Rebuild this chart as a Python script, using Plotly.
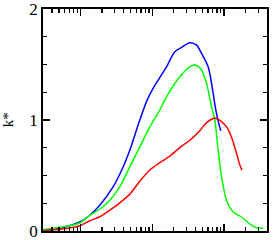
import plotly.graph_objects as go

# data (x on log axis, k* on linear axis)
blue_x = [0.301, 0.514, 0.978, 1.348, 1.858, 2.849, 3.928, 4.870, 6.716, 8.490, 10.29, 15.83, 20.66, 25.63, 33.45, 41.49, 48.71, 60.22, 67.17, 77.09, 85.72, 90.54]
blue_k = [0.002, 0.024, 0.081, 0.142, 0.232, 0.397, 0.577, 0.728, 0.999, 1.179, 1.285, 1.479, 1.615, 1.654, 1.696, 1.675, 1.600, 1.479, 1.330, 1.089, 0.954, 0.902]

green_x = [0.301, 0.514, 0.978, 1.348, 1.858, 2.563, 3.533, 4.870, 6.716, 9.260, 12.76, 15.83, 24.26, 33.45, 39.28, 48.71, 57.20, 67.17, 74.68, 83.00, 92.59, 108.7, 134.4, 176.0, 242.6, 299.9, 352.2]
green_k = [0.011, 0.033, 0.072, 0.142, 0.196, 0.277, 0.397, 0.577, 0.758, 0.938, 1.089, 1.209, 1.389, 1.479, 1.495, 1.450, 1.330, 1.119, 0.999, 0.728, 0.487, 0.277, 0.171, 0.126, 0.051, 0.027, 0.024]

red_x = [0.318, 0.514, 0.978, 1.348, 1.858, 2.563, 3.533, 4.870, 6.716, 9.260, 12.76, 17.60, 24.26, 33.45, 46.12, 57.20, 70.71, 78.85, 90.54, 108.7, 127.6, 149.9, 166.7, 179.4]
red_k = [0.006, 0.015, 0.047, 0.092, 0.128, 0.187, 0.254, 0.331, 0.448, 0.550, 0.615, 0.675, 0.751, 0.818, 0.904, 0.976, 1.014, 1.014, 0.990, 0.938, 0.845, 0.698, 0.593, 0.548]

y_ticks = [0, 1, 2]
y_label = "k*"

fig = go.Figure()
for xs, ys, c in [(blue_x, blue_k, "#0000ff"), (green_x, green_k, "#00ff00"), (red_x, red_k, "#ff0000")]:
    fig.add_trace(go.Scatter(x=xs, y=ys, mode="lines",
                             line=dict(color=c, width=1.5, shape="spline", smoothing=0.8),
                             showlegend=False, hoverinfo="skip"))

fig.update_layout(
    width=274, height=240,
    margin=dict(l=43, r=7, t=9, b=9, autoexpand=False),
    paper_bgcolor="white", plot_bgcolor="white",
    font=dict(family="Liberation Serif", color="black", size=16),
)
fig.update_xaxes(
    type="log", range=[-0.522, 2.6], dtick=1, automargin=False,
    showticklabels=False, ticks="inside", ticklen=7, tickwidth=1.3, tickcolor="black",
    minor=dict(ticks="inside", ticklen=4, tickwidth=1.3, tickcolor="black", dtick="D1", showgrid=False),
    showline=True, linecolor="black", linewidth=1.8, mirror="allticks",
    showgrid=False, zeroline=False,
)
fig.update_yaxes(
    range=[0, 2], tickvals=y_ticks, ticktext=[str(v) for v in y_ticks], automargin=False,
    ticks="inside", ticklen=7, tickwidth=1.3, tickcolor="black", ticklabeloverflow="allow",
    minor=dict(ticks="inside", ticklen=4, tickwidth=1.3, tickcolor="black", dtick=0.25, showgrid=False),
    showline=True, linecolor="black", linewidth=1.8, mirror="allticks",
    showgrid=False, zeroline=False,
    tickfont=dict(size=17),
)
fig.add_annotation(text=y_label, xref="paper", yref="paper", x=-0.155, y=0.5,
                   xanchor="center", yanchor="middle", textangle=-90, showarrow=False,
                   font=dict(size=15, family="Liberation Serif"))

fig.write_html("out.html", config={"displayModeBar": False, "staticPlot": True},
               post_script="document.body.style.margin='0';")
